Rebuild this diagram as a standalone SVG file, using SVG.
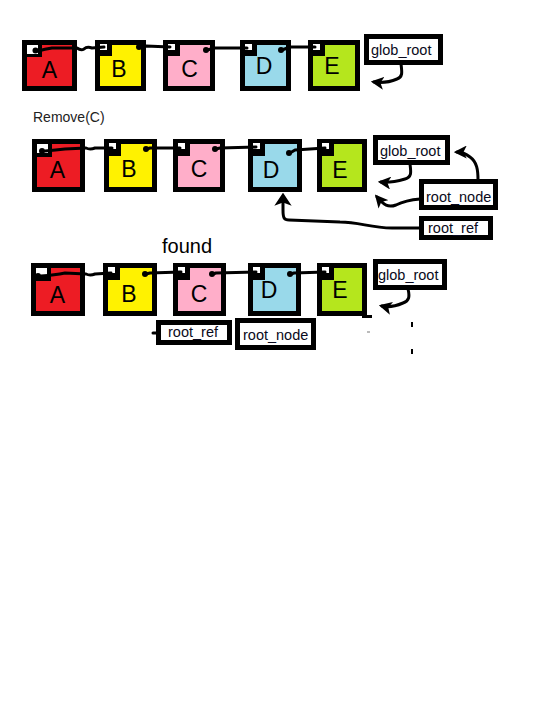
<svg xmlns="http://www.w3.org/2000/svg" width="547" height="702" viewBox="0 0 547 702">
<defs>
<style>
.nb{stroke:#000;stroke-width:5}
.pb{fill:#000}
.pw{fill:#fff}
.lt{font-family:"Liberation Sans",Arial,sans-serif;font-size:23px;fill:#000;text-anchor:middle}
.lb{fill:#fff;stroke:#000;stroke-width:5}
.lx{font-family:"Liberation Sans",Arial,sans-serif;font-size:14.5px;fill:#0a0a20}
.ln{fill:none;stroke:#000;stroke-width:3;stroke-linecap:round;stroke-linejoin:round}
.dot{fill:#000}
</style>
<marker id="ah" viewBox="0 0 12 12" refX="9" refY="6" markerWidth="13" markerHeight="13" markerUnits="userSpaceOnUse" orient="auto">
<path d="M0,0 L12,6 L0,12 L3,6 z" fill="#000"/>
</marker>
<marker id="ahb" viewBox="0 0 12 16" refX="8" refY="8" markerWidth="13" markerHeight="18" markerUnits="userSpaceOnUse" orient="auto">
<path d="M0,0 L12,8 L0,16 L3,8 z" fill="#000"/>
</marker>
</defs>
<rect width="547" height="702" fill="#fff"/>

<!-- Row 1 -->
<g id="r1-A"><rect class="nb" x="24.5" y="42.5" width="50" height="46" fill="#ED1C24"/><rect class="pb" x="22" y="40" width="20" height="17"/><rect class="pw" x="27" y="45" width="11" height="9"/><text class="lt" x="49.5" y="78">A</text></g>
<g id="r1-B"><rect class="nb" x="97.5" y="42.5" width="46" height="46" fill="#FFF200"/><rect class="pb" x="95" y="40" width="17" height="16"/><rect class="pw" x="100" y="44" width="7" height="6"/><text class="lt" x="119" y="77">B</text></g>
<g id="r1-C"><rect class="nb" x="165.5" y="42.5" width="47" height="46" fill="#FFAEC9"/><rect class="pb" x="163" y="40" width="17" height="16"/><rect class="pw" x="168" y="44" width="7" height="6"/><text class="lt" x="189.5" y="77">C</text></g>
<g id="r1-D"><rect class="nb" x="242.5" y="42.5" width="46" height="46" fill="#99D9EA"/><rect class="pb" x="240" y="40" width="17" height="16"/><rect class="pw" x="245" y="44" width="7" height="6"/><text class="lt" x="264" y="74">D</text></g>
<g id="r1-E"><rect class="nb" x="310.5" y="42.5" width="47" height="46" fill="#B5E61D"/><rect class="pb" x="308" y="40" width="17" height="16"/><rect class="pw" x="313" y="44" width="7" height="6"/><text class="lt" x="332" y="74">E</text></g>
<g id="r1-glob_root"><rect class="lb" x="366.5" y="36.5" width="74" height="26"/><text class="lx" x="371" y="55">glob_root</text></g>

<text id="remove-label" x="33" y="122" font-family="Liberation Sans, Arial, sans-serif" font-size="14" fill="#222">Remove(C)</text>

<!-- Row 2 -->
<g id="r2-A"><rect class="nb" x="34.5" y="141.5" width="48" height="48" fill="#ED1C24"/><rect class="pb" x="32" y="139" width="20" height="18"/><rect class="pw" x="37" y="144" width="11" height="9"/><text class="lt" x="57.5" y="178">A</text></g>
<g id="r2-B"><rect class="nb" x="106.5" y="141.5" width="48" height="48" fill="#FFF200"/><rect class="pb" x="104" y="139" width="17" height="17"/><rect class="pw" x="109" y="143" width="7" height="6"/><text class="lt" x="129" y="177">B</text></g>
<g id="r2-C"><rect class="nb" x="175.5" y="141.5" width="47" height="48" fill="#FFAEC9"/><rect class="pb" x="173" y="139" width="17" height="17"/><rect class="pw" x="178" y="143" width="7" height="6"/><text class="lt" x="199" y="177">C</text></g>
<g id="r2-D"><rect class="nb" x="250.5" y="141.5" width="49" height="48" fill="#99D9EA"/><rect class="pb" x="248" y="139" width="17" height="17"/><rect class="pw" x="253" y="143" width="7" height="6"/><text class="lt" x="271" y="178">D</text></g>
<g id="r2-E"><rect class="nb" x="319.5" y="141.5" width="45" height="48" fill="#B5E61D"/><rect class="pb" x="317" y="139" width="17" height="17"/><rect class="pw" x="322" y="143" width="7" height="6"/><text class="lt" x="340" y="178">E</text></g>
<g id="r2-glob_root"><rect class="lb" x="375.5" y="137.5" width="72" height="25"/><text class="lx" x="380" y="156">glob_root</text></g>
<g id="r2-root_node"><rect class="lb" x="421.5" y="181.5" width="74" height="26"/><text class="lx" x="426" y="202">root_node</text></g>
<g id="r2-root_ref"><rect class="lb" x="421.5" y="218.5" width="69" height="19"/><text class="lx" x="428" y="233">root_ref</text></g>

<!-- Row 3 -->
<text id="found-label" x="162" y="253" font-family="Liberation Sans, Arial, sans-serif" font-size="20" fill="#000">found</text>
<g id="r3-A"><rect class="nb" x="33.5" y="265.5" width="49" height="48" fill="#ED1C24"/><rect class="pb" x="31" y="263" width="20" height="18"/><rect class="pw" x="36" y="268" width="11" height="9"/><text class="lt" x="57.5" y="303">A</text></g>
<g id="r3-B"><rect class="nb" x="105.5" y="265.5" width="49" height="48" fill="#FFF200"/><rect class="pb" x="103" y="263" width="17" height="17"/><rect class="pw" x="108" y="267" width="7" height="6"/><text class="lt" x="129" y="302">B</text></g>
<g id="r3-C"><rect class="nb" x="175.5" y="265.5" width="48" height="48" fill="#FFAEC9"/><rect class="pb" x="173" y="263" width="17" height="17"/><rect class="pw" x="178" y="267" width="7" height="6"/><text class="lt" x="199" y="302">C</text></g>
<g id="r3-D"><rect class="nb" x="250.5" y="265.5" width="48" height="48" fill="#99D9EA"/><rect class="pb" x="248" y="263" width="17" height="17"/><rect class="pw" x="253" y="267" width="7" height="6"/><text class="lt" x="269" y="298">D</text></g>
<g id="r3-E"><rect class="nb" x="319.5" y="265.5" width="45" height="48" fill="#B5E61D"/><rect class="pb" x="317" y="263" width="17" height="17"/><rect class="pw" x="322" y="267" width="7" height="6"/><text class="lt" x="340" y="298">E</text></g>
<g id="r3-glob_root"><rect class="lb" x="375.5" y="261.5" width="69" height="26"/><text class="lx" x="378" y="280">glob_root</text></g>
<g id="r3-root_ref"><rect class="lb" x="158.5" y="322.5" width="71" height="20"/><text class="lx" x="168" y="337">root_ref</text></g>
<g id="r3-root_node"><rect class="lb" x="237.5" y="320.5" width="76" height="27"/><text class="lx" x="243" y="340">root_node</text></g>

<g id="connectors">
<!-- row 1 chain -->
<path class="ln" d="M104,47 L92,48 Q87,46 84,49 Q81,51 77,48 L52,48 Q45,49 38,51"/>
<circle class="dot" cx="35.5" cy="50.5" r="3"/>
<path class="ln" d="M170,47 L146,46 L140,47"/>
<circle class="dot" cx="139" cy="47" r="3"/>
<path class="ln" d="M247,48 L215,48 L207,50"/>
<circle class="dot" cx="206" cy="50" r="3"/>
<path class="ln" d="M315,47 L290,47 L282,50"/>
<circle class="dot" cx="281" cy="50" r="3"/>
<path class="ln" d="M401,64 C402,72 403,77 397,79 C390,82 382,83 374,82" marker-end="url(#ah)"/>

<!-- row 2 chain -->
<path class="ln" d="M112,148 L95,148 Q90,150 86,148 L65,149 Q56,150 45,151"/>
<circle class="dot" cx="42" cy="151" r="3"/>
<path class="ln" d="M180,148 L150,148 L147,149"/>
<circle class="dot" cx="146" cy="149" r="3"/>
<path class="ln" d="M256,147 L220,148 L216,149"/>
<circle class="dot" cx="215" cy="149" r="3"/>
<path class="ln" d="M325,148 L295,150 L290,153"/>
<circle class="dot" cx="289" cy="153" r="3"/>
<path class="ln" d="M410,164 C411,172 412,177 405,179 C398,181 390,183 381,182" marker-end="url(#ah)"/>
<path class="ln" d="M478,180 C478,170 477,162 470,157 C465,153 461,152 457,152" marker-end="url(#ah)"/>
<path class="ln" d="M420,199 C408,200 402,202 396,205 C388,208 384,205 377,197" marker-end="url(#ah)"/>
<path class="ln" d="M420,228 L392,228 C370,228 360,222 340,222 L289,220 C284,220 283,218 283,210 L283,197" marker-end="url(#ahb)"/>

<!-- row 3 chain -->
<path class="ln" d="M111,273 L95,274 Q90,276 86,274 L65,273 Q55,275 41,276"/>
<circle class="dot" cx="38" cy="276" r="3"/>
<path class="ln" d="M181,272 L150,273 L146,274"/>
<circle class="dot" cx="145" cy="274" r="3"/>
<path class="ln" d="M256,272 L216,273 L213,274"/>
<circle class="dot" cx="212" cy="274" r="3"/>
<path class="ln" d="M325,272 L294,273 L291,274"/>
<circle class="dot" cx="290" cy="274" r="3"/>
<path class="ln" d="M408,289 C410,297 409,301 403,303 C396,306 390,308 382,306" marker-end="url(#ah)"/>
<path class="ln" d="M153,333 L158,333"/>
</g>

<g id="stray-marks">
<rect x="362" y="315" width="10" height="3" fill="#000"/>
<rect x="411" y="322" width="2" height="5" fill="#000"/>
<rect x="411" y="349" width="2" height="5" fill="#000"/>
<rect x="367" y="331" width="3" height="2" fill="#bbb"/>
</g>
</svg>
